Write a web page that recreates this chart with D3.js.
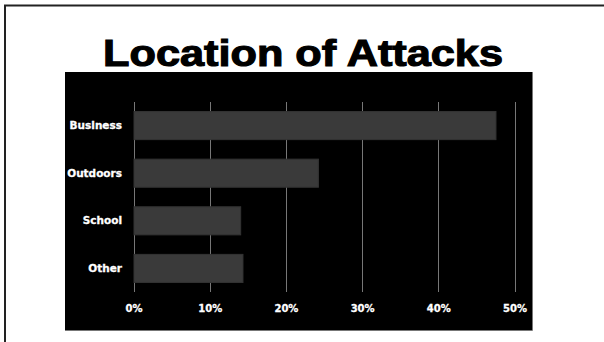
<!DOCTYPE html>
<html>
<head>
<meta charset="utf-8">
<script src="https://cdn.jsdelivr.net/npm/d3@7"></script>
<style>
  body { margin: 0; background: #fff; }
  svg { display: block; }
  .cat text { fill: #fff; stroke: #fff; stroke-width: 0.3px; font: bold 10.5px "DejaVu Sans", sans-serif; }
  .x-axis text { fill: #fff; stroke: #fff; stroke-width: 0.3px; font: bold 10px "DejaVu Sans", sans-serif; }
</style>
</head>
<body>
<div id="chart"></div>
<script>
// values (share of attacks)
const categories = ['Business', 'Outdoors', 'School', 'Other']
const shares = [0.475, 0.242, 0.140, 0.143]
const tickValues = [0, 0.1, 0.2, 0.3, 0.4, 0.5]
const tickLabels = ['0%', '10%', '20%', '30%', '40%', '50%']

const W = 604, H = 342
const data = categories.map((c, i) => ({cat: c, value: shares[i]}))

const svg = d3.select('#chart').append('svg')
    .attr('width', W)
    .attr('height', H)

// slide frame (only top and left edges are in view)
svg.append('path')
    .attr('d', `M5,${H} V5.5 H${W}`)
    .attr('fill', 'none')
    .attr('stroke', '#222')
    .attr('stroke-width', 2)

// heavy, wide title: bold sans stretched to the reference width
svg.append('text')
    .attr('x', 103)
    .attr('y', 66)
    .attr('textLength', 400)
    .attr('lengthAdjust', 'spacingAndGlyphs')
    .style('font', 'bold 36px "Liberation Sans", Arial, sans-serif')
    .style('fill', '#000')
    .style('stroke', '#000')
    .style('stroke-width', 1.1)
    .text('Location of Attacks')

// black chart panel
svg.append('rect')
    .attr('x', 65)
    .attr('y', 72)
    .attr('width', 467)
    .attr('height', 258)
    .attr('fill', '#000')
svg.append('path')
    .attr('d', 'M532.5,72 V330.5 H65')
    .attr('fill', 'none')
    .attr('stroke', '#777')

const x = d3.scaleLinear()
    .domain([0, 0.5])
    .range([133.5, 514.5])

const y = d3.scaleBand()
    .domain(categories)
    .range([102, 292])
    .paddingInner(0.41)
    .paddingOuter(0.2)

// grid lines
svg.append('g')
    .selectAll('line')
    .data(tickValues)
    .join('line')
      .attr('x1', d => Math.round(x(d)) + 0.5)
      .attr('x2', d => Math.round(x(d)) + 0.5)
      .attr('y1', 102)
      .attr('y2', 292)
      .attr('stroke', '#777')

svg.append('g')
    .selectAll('.bar')
    .data(data)
    .join('rect')
      .attr('class', 'bar')
      .attr('x', x(0) + 0.5)
      .attr('y', d => y(d.cat))
      .attr('width', d => x(d.value) - x(0))
      .attr('height', y.bandwidth())
      .attr('fill', '#3a3a3a')
      .attr('stroke', '#333')

const xAxis = d3.axisBottom(x)
    .tickValues(tickValues)
    .tickFormat((d, i) => tickLabels[i])
    .tickSize(0)
    .tickPadding(13)

svg.append('g')
    .attr('class', 'x-axis')
    .attr('transform', 'translate(0,292)')
    .call(xAxis)
    .call(g => g.select('.domain').remove())

const yAxis = d3.axisLeft(y)
    .tickSize(0)
    .tickPadding(11)

svg.append('g')
    .attr('class', 'cat')
    .attr('transform', 'translate(133,0)')
    .call(yAxis)
    .call(g => g.select('.domain').remove())
</script>
</body>
</html>
